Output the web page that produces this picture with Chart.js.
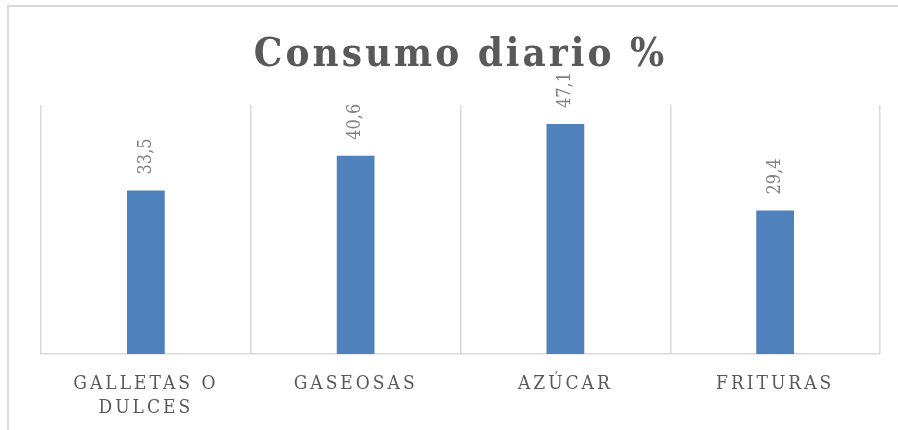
<!DOCTYPE html>
<html><head><meta charset="utf-8">
<script src="https://cdn.jsdelivr.net/npm/chart.js@4"></script>
<style>
html,body{margin:0;padding:0;background:#fff;overflow:hidden}
#wrap{position:relative;width:898px;height:430px;overflow:hidden}
#frame{position:absolute;left:7px;top:5px;width:1000px;height:1000px;border:2px solid #d9d9d9;box-sizing:border-box}
canvas{position:absolute;left:0;top:0}
</style></head>
<body><div id="wrap"><div id="frame"></div><canvas id="c" width="898" height="430"></canvas></div>
<script>
const titleText = "Consumo diario %";
const categories = [["GALLETAS O", "DULCES"], "GASEOSAS", "AZÚCAR", "FRITURAS"];
const values = [33.5, 40.6, 47.1, 29.4];
const valueLabels = ["33,5", "40,6", "47,1", "29,4"];
const yMin = 0;
const yMax = 51;

const spacingPlugin = {
  id: 'spacing',
  beforeDraw(chart) { chart.ctx.letterSpacing = '3px'; }
};
const labelPlugin = {
  id: 'valueLabels',
  afterDatasetsDraw(chart) {
    const ctx = chart.ctx;
    const meta = chart.getDatasetMeta(0);
    meta.data.forEach((el, i) => {
      ctx.save();
      ctx.letterSpacing = '0px';
      ctx.translate(el.x, el.y - 16);
      ctx.rotate(-Math.PI / 2);
      ctx.font = '18px "DejaVu Serif Condensed"';
      ctx.fillStyle = '#808080';
      ctx.textAlign = 'left';
      ctx.textBaseline = 'middle';
      ctx.fillText(valueLabels[i], 0, 0);
      ctx.restore();
    });
  }
};

new Chart(document.getElementById('c'), {
  type: 'bar',
  data: {
    labels: categories,
    datasets: [{ data: values, backgroundColor: '#4F81BD', barPercentage: 0.18, categoryPercentage: 1 }]
  },
  options: {
    responsive: false,
    animation: false,
    layout: { padding: { left: 41, right: 18, top: 0, bottom: -7.5 } },
    plugins: {
      legend: { display: false },
      tooltip: { enabled: false },
      title: {
        display: true, text: titleText, color: '#595959',
        font: { family: '"DejaVu Serif Condensed"', size: 40, weight: 'bold', lineHeight: 1.2 },
        padding: { top: 32, bottom: 25 }
      }
    },
    scales: {
      x: {
        offset: true,
        grid: { offset: true, color: '#d9d9d9', lineWidth: 1.5, drawTicks: false },
        border: { color: '#d9d9d9', width: 1.5 },
        ticks: { color: '#595959', font: { family: '"DejaVu Serif Condensed"', size: 19, lineHeight: 1.25 }, padding: 18, maxRotation: 0 }
      },
      y: { display: false, min: yMin, max: yMax }
    }
  },
  plugins: [spacingPlugin, labelPlugin]
});
</script>
</body></html>
